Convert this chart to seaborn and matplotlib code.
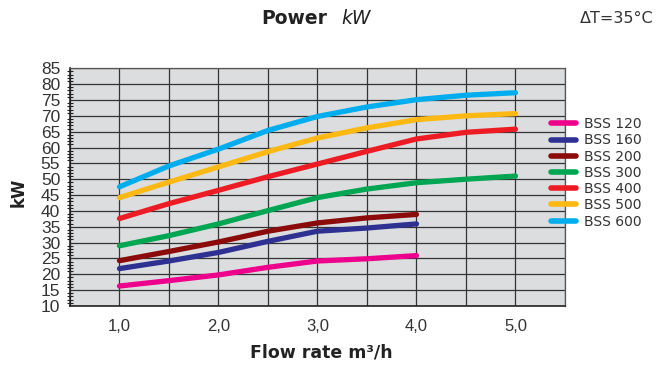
import numpy as np
import pandas as pd
import matplotlib
matplotlib.use("Agg")
import matplotlib.pyplot as plt
import seaborn as sns
from matplotlib.ticker import MultipleLocator, FuncFormatter
from matplotlib import font_manager

# Data (kW vs flow rate m3/h)
flow_short = [1.0, 1.5, 2.0, 2.5, 3.0, 3.5, 4.0]
flow_long = [1.0, 1.5, 2.0, 2.5, 3.0, 3.5, 4.0, 4.5, 5.0]

bss_120 = [16.3, 18.0, 19.8, 22.2, 24.2, 24.9, 25.9]
bss_160 = [21.8, 24.2, 26.9, 30.4, 33.6, 34.6, 35.9]
bss_200 = [24.3, 27.2, 30.2, 33.6, 36.2, 37.8, 38.9]
bss_300 = [29.0, 32.2, 35.9, 40.1, 44.2, 46.9, 48.9, 50.0, 51.0]
bss_400 = [37.6, 42.3, 46.5, 50.8, 54.8, 58.8, 62.7, 64.8, 65.8]
bss_500 = [44.2, 49.1, 53.9, 58.7, 63.0, 66.2, 68.8, 70.0, 70.7]
bss_600 = [47.6, 54.2, 59.5, 65.4, 69.8, 72.8, 75.1, 76.5, 77.3]

models = ["BSS 120", "BSS 160", "BSS 200", "BSS 300", "BSS 400", "BSS 500", "BSS 600"]
colors = ["#ec008c", "#2e3192", "#8b0a0a", "#00a651", "#ed1c24", "#fdb913", "#00aeef"]

series = [
    (flow_short, bss_120), (flow_short, bss_160), (flow_short, bss_200),
    (flow_long, bss_300), (flow_long, bss_400), (flow_long, bss_500), (flow_long, bss_600),
]
rows = []
for name, (xs, ys) in zip(models, series):
    for x, y in zip(xs, ys):
        rows.append({"flow": x, "kw": y, "model": name})
df = pd.DataFrame(rows)

sns.set_style("white")
plt.rcParams['font.family'] = ['DejaVu Sans']

# pick a narrow face for the tick labels if one is available
installed = {f.name for f in font_manager.fontManager.ttflist}
narrow_font = next((f for f in ['Liberation Sans Narrow', 'DejaVu Sans Condensed',
                                'Liberation Sans'] if f in installed), 'DejaVu Sans')

fig = plt.figure(figsize=(6.59, 3.78), dpi=100)
ax = fig.add_axes([0.1062, 0.1905, 0.7511, 0.6288])
ax.set_facecolor("#dcdddf")

sns.lineplot(data=df, x="flow", y="kw", hue="model", palette=dict(zip(models, colors)),
             linewidth=3.8, solid_capstyle="round", ax=ax, legend=True, zorder=3)

ax.set_xlim(0.5, 5.5)
ax.set_ylim(10, 85)
ax.xaxis.set_major_locator(MultipleLocator(0.5))
ax.yaxis.set_major_locator(MultipleLocator(5))
ax.yaxis.set_minor_locator(MultipleLocator(1))

ax.xaxis.set_major_formatter(FuncFormatter(
    lambda v, p: (f"{v:.1f}".replace(".", ",") if abs(v - round(v)) < 1e-6 else "")))
ax.yaxis.set_major_formatter(FuncFormatter(lambda v, p: f"{int(v)}"))
ax.tick_params(axis="x", direction="inout", length=5, width=1, color="#222222",
               labelsize=12, pad=7, labelcolor="#333333", labelfontfamily=narrow_font)
ax.tick_params(axis="y", which="major", direction="inout", length=6, width=1,
               color="#222222", labelsize=12.5, pad=4, labelcolor="#333333",
               labelfontfamily=narrow_font)
ax.tick_params(axis="y", which="minor", direction="inout", length=4, width=0.8,
               color="#222222", left=True)

ax.grid(True, which="major", color="#333333", linewidth=0.9, zorder=0)
ax.set_axisbelow(True)
for side in ["left", "bottom"]:
    ax.spines[side].set_color("#222222")
    ax.spines[side].set_linewidth(1.2)
for side in ["top", "right"]:
    ax.spines[side].set_color("#555555")
    ax.spines[side].set_linewidth(0.9)

ax.set_xlabel("")
ax.set_ylabel("")

handles, labels = ax.get_legend_handles_labels()
ax.legend_.remove()
leg = fig.legend(handles, labels, loc="upper left", bbox_to_anchor=(0.836, 0.690),
                 frameon=False, fontsize=10, handlelength=1.8, handletextpad=0.6,
                 labelspacing=0.16, borderaxespad=0, borderpad=0)
for h in leg.get_lines():
    h.set_linewidth(4.0)
    h.set_solid_capstyle("round")
for t in leg.get_texts():
    t.set_color("#333333")

fig.text(0.397, 0.952, "Power", fontsize=13.5, fontweight="bold", color="#222222",
         ha="left", va="center")
fig.text(0.518, 0.952, "kW", fontsize=13.5, fontstyle="italic", color="#222222",
         ha="left", va="center")
fig.text(0.88, 0.952, "ΔT=35°C", fontsize=11.5, color="#333333", ha="left", va="center")
fig.text(0.028, 0.49, "kW", fontsize=12, fontweight="bold", color="#222222",
         rotation=90, ha="center", va="center")
fig.text(0.488, 0.068, "Flow rate m³/h", fontsize=12.5, fontweight="bold", color="#222222",
         ha="center", va="center")

fig.savefig("out.png", dpi=100)
